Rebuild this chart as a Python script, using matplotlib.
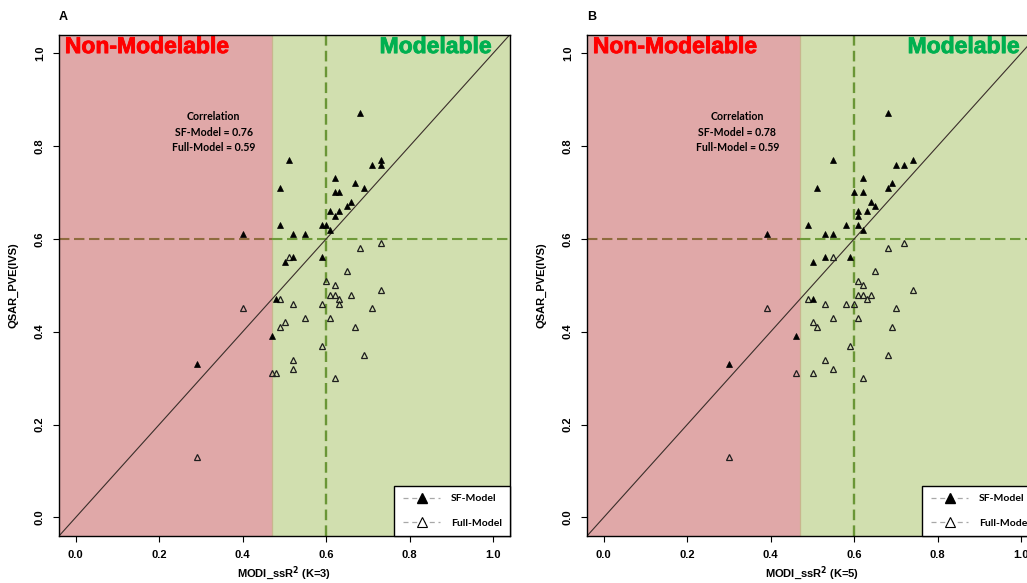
import matplotlib
matplotlib.use("Agg")
import matplotlib.pyplot as plt
from matplotlib.lines import Line2D
import matplotlib.patheffects as pe

# Predicted vs. observed reliability, MODI with K=3 neighbours
sf_k3_x = [0.68, 0.51, 0.71, 0.73, 0.73, 0.49, 0.62, 0.62, 0.63, 0.67,
           0.69, 0.66, 0.65, 0.61, 0.63, 0.62, 0.49, 0.59, 0.60, 0.61,
           0.40, 0.52, 0.55, 0.52, 0.50, 0.59, 0.48, 0.47, 0.29]
sf_k3_y = [0.87, 0.77, 0.76, 0.77, 0.76, 0.71, 0.73, 0.70, 0.70, 0.72,
           0.71, 0.68, 0.67, 0.66, 0.66, 0.65, 0.63, 0.63, 0.63, 0.62,
           0.61, 0.61, 0.61, 0.56, 0.55, 0.56, 0.47, 0.39, 0.33]
full_k3_x = [0.68, 0.73, 0.51, 0.65, 0.60, 0.62, 0.61, 0.62, 0.63, 0.63,
             0.66, 0.73, 0.49, 0.52, 0.59, 0.40, 0.71, 0.55, 0.61, 0.50,
             0.49, 0.67, 0.59, 0.69, 0.52, 0.52, 0.47, 0.48, 0.62, 0.29]
full_k3_y = [0.58, 0.59, 0.56, 0.53, 0.51, 0.50, 0.48, 0.48, 0.47, 0.46,
             0.48, 0.49, 0.47, 0.46, 0.46, 0.45, 0.45, 0.43, 0.43, 0.42,
             0.41, 0.41, 0.37, 0.35, 0.34, 0.32, 0.31, 0.31, 0.30, 0.13]

# Same compounds, MODI with K=5 neighbours
sf_k5_x = [0.68, 0.55, 0.70, 0.72, 0.74, 0.51, 0.62, 0.68, 0.69, 0.60,
           0.62, 0.64, 0.65, 0.61, 0.63, 0.61, 0.49, 0.58, 0.61, 0.62,
           0.39, 0.53, 0.55, 0.53, 0.59, 0.50, 0.50, 0.46, 0.30]
sf_k5_y = [0.87, 0.77, 0.76, 0.76, 0.77, 0.71, 0.73, 0.71, 0.72, 0.70,
           0.70, 0.68, 0.67, 0.66, 0.66, 0.65, 0.63, 0.63, 0.63, 0.62,
           0.61, 0.61, 0.61, 0.56, 0.56, 0.55, 0.47, 0.39, 0.33]
full_k5_x = [0.68, 0.72, 0.55, 0.65, 0.61, 0.62, 0.61, 0.62, 0.64, 0.63,
             0.74, 0.49, 0.53, 0.58, 0.60, 0.39, 0.70, 0.55, 0.61, 0.50,
             0.51, 0.69, 0.59, 0.68, 0.53, 0.55, 0.46, 0.50, 0.62, 0.30]
full_k5_y = [0.58, 0.59, 0.56, 0.53, 0.51, 0.50, 0.48, 0.48, 0.48, 0.47,
             0.49, 0.47, 0.46, 0.46, 0.46, 0.45, 0.45, 0.43, 0.43, 0.42,
             0.41, 0.41, 0.37, 0.35, 0.34, 0.32, 0.31, 0.31, 0.30, 0.13]

panel_labels = ["A", "B"]
k_values = [3, 5]
sf_corr = [0.76, 0.78]
full_corr = [0.59, 0.59]
series_names = ["SF-Model", "Full-Model"]

modi_threshold = 0.47   # left of this: non-modelable
cutoff = 0.6            # reliability cutoff on both axes
ticks = [0.0, 0.2, 0.4, 0.6, 0.8, 1.0]
tick_labels = ["0.0", "0.2", "0.4", "0.6", "0.8", "1.0"]

RED_BG = "#E0A8A8"
GREEN_BG = "#D1DFAF"
LO, HI = -0.04, 1.04

plt.rcParams["font.family"] = ["Liberation Sans", "DejaVu Sans"]

fig = plt.figure(figsize=(10.27, 5.83), dpi=100)
ax_w = 451 / 1027
ax_b = 47 / 583
ax_h = 501.5 / 583
axes = [fig.add_axes([59 / 1027, ax_b, ax_w, ax_h]),
        fig.add_axes([587 / 1027, ax_b, ax_w, ax_h])]

data = [(sf_k3_x, sf_k3_y, full_k3_x, full_k3_y),
        (sf_k5_x, sf_k5_y, full_k5_x, full_k5_y)]
corr_x = [0.33, 0.32]

for i, ax in enumerate(axes):
    sfx, sfy, fx, fy = data[i]
    ax.set_xlim(LO, HI)
    ax.set_ylim(LO, HI)

    ax.axvspan(LO, modi_threshold, color=RED_BG, lw=0, zorder=0)
    ax.axvspan(modi_threshold, HI, color=GREEN_BG, lw=0, zorder=0)
    ax.axvline(modi_threshold, color="#C9B58E", lw=0.9, zorder=1)

    # cutoff lines
    split = (modi_threshold - LO) / (HI - LO)
    ax.axhline(cutoff, xmin=0, xmax=split, color="#8E6B3E", lw=1.5,
               dashes=(5, 2.2), zorder=2)
    ax.axhline(cutoff, xmin=split, xmax=1, color="#6F9A3A", lw=1.5,
               dashes=(5, 2.2), zorder=2)
    ax.axvline(cutoff, color="#6A9636", lw=1.7, dashes=(4.5, 2.2), zorder=2)

    # identity line
    ax.plot([LO, HI], [LO, HI], color="#3A2E2A", lw=0.8, zorder=3)

    ax.plot(fx, fy, ls="none", marker="^", ms=4.6, mfc="none",
            mec="#1E1E1E", mew=0.9, zorder=4)
    ax.plot(sfx, sfy, ls="none", marker="^", ms=4.6, mfc="black",
            mec="black", mew=0.5, zorder=5)

    ax.text(-0.026, 1.0, "Non-Modelable", color="#FF0000", fontsize=16.5,
            fontweight="bold", ha="left", va="baseline", zorder=6,
            path_effects=[pe.withStroke(linewidth=0.6, foreground="#FF0000")])
    ax.text(0.995, 1.0, "Modelable", color="#00B050", fontsize=16.5,
            fontweight="bold", ha="right", va="baseline", zorder=6,
            path_effects=[pe.withStroke(linewidth=0.6, foreground="#00B050")])

    ax.text(corr_x[i], 0.83,
            "Correlation\n%s = %.2f\n%s = %.2f" % (series_names[0], sf_corr[i],
                                                   series_names[1], full_corr[i]),
            ha="center", va="center", fontsize=7.6, fontweight="bold",
            family=["Lato", "DejaVu Sans"], linespacing=1.55, zorder=6)

    ax.set_xticks(ticks)
    ax.set_xticklabels(tick_labels)
    ax.set_yticks(ticks)
    ax.set_yticklabels(tick_labels, rotation=90, va="center")
    ax.tick_params(direction="out", length=4.2, width=0.8, labelsize=8, pad=6)
    for lab in ax.get_xticklabels() + ax.get_yticklabels():
        lab.set_fontweight("bold")

    for s in ax.spines.values():
        s.set_linewidth(1.0)
        s.set_color("black")
        s.set_zorder(7)

    ax.set_xlabel("MODI_ssR$^{\\mathbf{2}}$ (K=%d)" % k_values[i], fontsize=8,
                  fontweight="bold", labelpad=3)
    ax.set_ylabel("QSAR_PVE(IVS)", fontsize=8, fontweight="bold", labelpad=12)

    ax.text(0.0, 1.022, panel_labels[i], transform=ax.transAxes, fontsize=9,
            fontweight="bold", ha="left", va="bottom")

    handles = [
        Line2D([], [], color="#A8A8A8", lw=0.9, dashes=(4, 3), marker="^",
               ms=6.5, mfc="black", mec="black"),
        Line2D([], [], color="#A8A8A8", lw=0.9, dashes=(4, 3), marker="^",
               ms=6.5, mfc="white", mec="black", mew=0.8),
    ]
    leg = ax.legend(handles, series_names, loc="lower right",
                    borderaxespad=0, fancybox=False, framealpha=1,
                    edgecolor="black", handlelength=3.6, handletextpad=1.0,
                    labelspacing=1.45, borderpad=0.8,
                    prop={"family": ["Lato", "DejaVu Sans"], "weight": "bold",
                          "size": 7.5})
    leg.get_frame().set_linewidth(1.0)
    leg.set_zorder(8)

fig.savefig("out.png", dpi=100)
